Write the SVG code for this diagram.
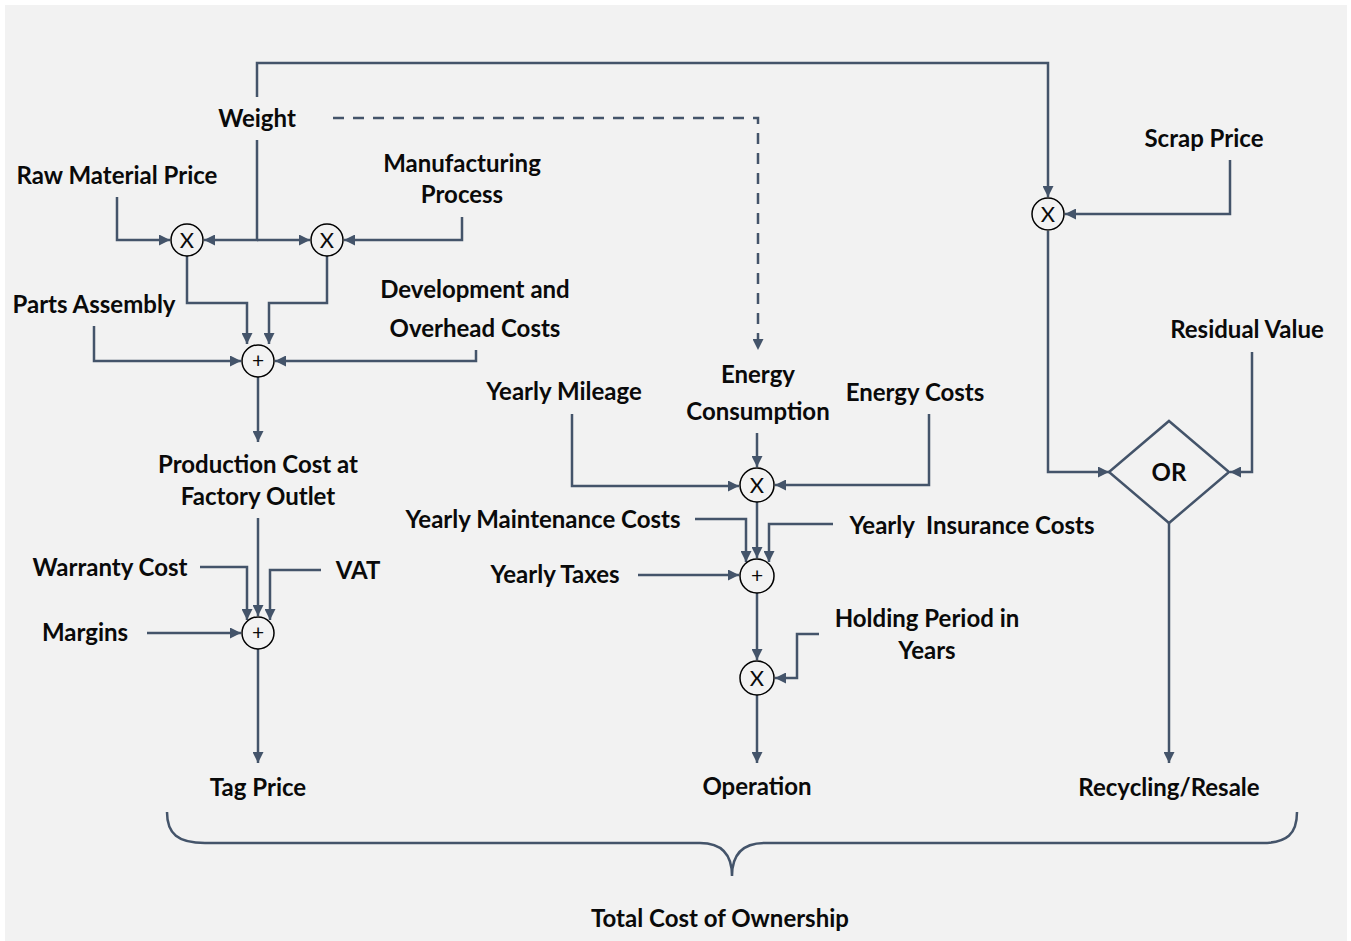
<svg xmlns="http://www.w3.org/2000/svg" width="1351" height="941" viewBox="0 0 1351 941">
<defs>
<marker id="ah" viewBox="0 0 10 10" refX="10" refY="5" markerWidth="11" markerHeight="11" markerUnits="userSpaceOnUse" orient="auto">
<path d="M0,0 L10,5 L0,10 z" fill="#44546a"/>
</marker>
<style>
.lbl{font-family:Lato,"Open Sans","Liberation Sans",sans-serif;font-weight:700;font-size:24px;fill:#0a0a0a;text-anchor:middle;white-space:pre}
.op{font-family:Lato,"Liberation Sans",sans-serif;font-weight:400;fill:#0a0a0a;text-anchor:middle}
.c{fill:none;stroke:#44546a;stroke-width:2.5;marker-end:url(#ah)}
.n{fill:none;stroke:#44546a;stroke-width:2.5}
.circ{fill:#f2f2f2;stroke:#000;stroke-width:1.5}
</style>
</defs>
<rect x="0" y="0" width="1351" height="941" fill="#ffffff"/>
<rect x="5" y="5" width="1342" height="936" fill="#f2f2f2"/>
<g id="connectors">
<path class="c" d="M117,197 V240 H170"/>
<path class="c" d="M257,140 V240 H204"/>
<path class="c" d="M257,240 H310"/>
<path class="c" d="M462,217 V240 H344"/>
<path class="c" d="M257,97 V63 H1048 V197"/>
<path class="c" d="M333,118 H758 V350" stroke-dasharray="11 9"/>
<path class="c" d="M187,256 V303 H247 V344"/>
<path class="c" d="M327,256 V303 H269 V344"/>
<path class="c" d="M94,326 V361 H241"/>
<path class="c" d="M476,350 V361 H275"/>
<path class="c" d="M258,377 V442"/>
<path class="c" d="M258,518 V616"/>
<path class="c" d="M200,567 H247 V620"/>
<path class="c" d="M321,570 H270 V620"/>
<path class="c" d="M147,633 H241"/>
<path class="c" d="M258,649 V763"/>
<path class="c" d="M572,414 V486 H739"/>
<path class="c" d="M757,433 V467"/>
<path class="c" d="M929,414 V485 H775"/>
<path class="c" d="M757,502 V558"/>
<path class="c" d="M695,519 H746 V562"/>
<path class="c" d="M833,524 H769 V562"/>
<path class="c" d="M638,575 H739"/>
<path class="c" d="M757,593 V660"/>
<path class="c" d="M819,634 H797 V678 H775"/>
<path class="c" d="M757,695 V763"/>
<path class="c" d="M1230,160 V214 H1065"/>
<path class="c" d="M1048,231 V472 H1109"/>
<path class="c" d="M1252,352 V472 H1230"/>
<path class="c" d="M1169,523 V763"/>
<path class="n" stroke-width="2" d="M167,812 C167,834 178,843 205,843 H700 C722,843 732,855 732,876 C732,855 742,843 765,843 H1262 C1287,843 1297,834 1297,812"/>
</g>
<g id="op-x1"><circle class="circ" cx="187" cy="240" r="16"/><text class="op" x="187" y="248" font-size="22">X</text></g>
<g id="op-x2"><circle class="circ" cx="327" cy="240" r="16"/><text class="op" x="327" y="248" font-size="22">X</text></g>
<g id="op-p1"><circle class="circ" cx="258" cy="361" r="16"/><text class="op" x="258" y="368" font-size="21">+</text></g>
<g id="op-p2"><circle class="circ" cx="258" cy="633" r="16"/><text class="op" x="258" y="640" font-size="21">+</text></g>
<g id="op-x3"><circle class="circ" cx="757" cy="485" r="17"/><text class="op" x="757" y="493" font-size="22">X</text></g>
<g id="op-p3"><circle class="circ" cx="757" cy="576" r="17"/><text class="op" x="757" y="583" font-size="21">+</text></g>
<g id="op-x4"><circle class="circ" cx="757" cy="678" r="17"/><text class="op" x="757" y="686" font-size="22">X</text></g>
<g id="op-x5"><circle class="circ" cx="1048" cy="214" r="16"/><text class="op" x="1048" y="222" font-size="22">X</text></g>
<g id="op-or"><path d="M1169,421 L1229,472 L1169,523 L1109,472 Z" fill="none" stroke="#44546a" stroke-width="2.5"/><text class="lbl" x="1169" y="481">OR</text></g>
<g id="weight"><text class="lbl" x="257" y="127">Weight</text></g>
<g id="raw-material"><text class="lbl" x="117" y="184">Raw Material Price</text></g>
<g id="manufacturing"><text class="lbl" x="462" y="172">Manufacturing</text><text class="lbl" x="462" y="203">Process</text></g>
<g id="parts-assembly"><text class="lbl" x="94" y="313">Parts Assembly</text></g>
<g id="development"><text class="lbl" x="475" y="298">Development and</text><text class="lbl" x="475" y="337">Overhead Costs</text></g>
<g id="production-cost"><text class="lbl" x="258" y="473">Production Cost at</text><text class="lbl" x="258" y="505">Factory Outlet</text></g>
<g id="warranty"><text class="lbl" x="110" y="576">Warranty Cost</text></g>
<g id="vat"><text class="lbl" x="358" y="579">VAT</text></g>
<g id="margins"><text class="lbl" x="85" y="641">Margins</text></g>
<g id="tag-price"><text class="lbl" x="258" y="796">Tag Price</text></g>
<g id="yearly-mileage"><text class="lbl" x="564" y="400">Yearly Mileage</text></g>
<g id="energy-consumption"><text class="lbl" x="758" y="383">Energy</text><text class="lbl" x="758" y="420">Consumption</text></g>
<g id="energy-costs"><text class="lbl" x="915" y="401">Energy Costs</text></g>
<g id="maintenance"><text class="lbl" x="543" y="528">Yearly Maintenance Costs</text></g>
<g id="taxes"><text class="lbl" x="555" y="583">Yearly Taxes</text></g>
<g id="insurance"><text class="lbl" x="972" y="534">Yearly  Insurance Costs</text></g>
<g id="holding"><text class="lbl" x="927" y="627">Holding Period in</text><text class="lbl" x="927" y="659">Years</text></g>
<g id="operation"><text class="lbl" x="757" y="795">Operation</text></g>
<g id="scrap-price"><text class="lbl" x="1204" y="147">Scrap Price</text></g>
<g id="residual-value"><text class="lbl" x="1247" y="338">Residual Value</text></g>
<g id="recycling"><text class="lbl" x="1169" y="796">Recycling/Resale</text></g>
<g id="tco"><text class="lbl" x="720" y="927">Total Cost of Ownership</text></g>
</svg>
